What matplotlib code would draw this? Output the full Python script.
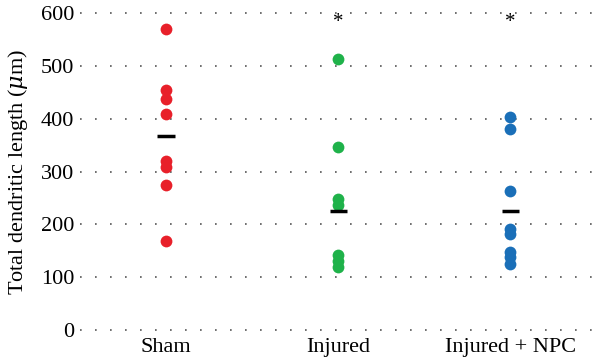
import matplotlib
matplotlib.use("Agg")
import matplotlib.pyplot as plt
import numpy as np

plt.rcParams["font.family"] = ["Liberation Serif", "DejaVu Serif"]
plt.rcParams["mathtext.fontset"] = "dejavuserif"

groups = ["Sham", "Injured", "Injured + NPC"]
colors = ["#e8202a", "#1fb24a", "#1a6fb8"]
sham = [571, 454, 437, 410, 320, 309, 274, 169]
injured = [514, 347, 249, 237, 142, 131, 120]
injured_npc = [404, 380, 263, 191, 181, 148, 139, 125]
means = [367, 225, 225]
significant = [False, True, True]
yticks = [0, 100, 200, 300, 400, 500, 600]

fig = plt.figure(figsize=(6, 3.63), dpi=100)
ax = fig.add_axes([0.133, 0.091, 0.867, 0.872])

for i, (vals, c) in enumerate(zip([sham, injured, injured_npc], colors)):
    ax.scatter(np.full(len(vals), i), vals, s=72, color=c, zorder=3, linewidths=0)
    ax.hlines(means[i], i - 0.05, i + 0.05, color="black", lw=2.5, zorder=4)
    if significant[i]:
        ax.text(i, 583, "*", ha="center", va="center", fontsize=15)

for y in yticks:
    ax.axhline(y, color="#555555", lw=1.2, linestyle=(0, (1, 8)), zorder=1, clip_on=False)

ax.set_xlim(-0.5, 2.52)
ax.set_ylim(0, 600)
ax.set_yticks(yticks)
ax.set_xticks(range(len(groups)))
ax.set_xticklabels(groups)
ax.tick_params(length=0, labelsize=16, pad=4)
ax.tick_params(axis="x", pad=6)
ax.set_ylabel(r"Total dendritic length ($\mu$m)", fontsize=16, labelpad=8)
for s in ax.spines.values():
    s.set_visible(False)

fig.savefig("out.png", dpi=100)
